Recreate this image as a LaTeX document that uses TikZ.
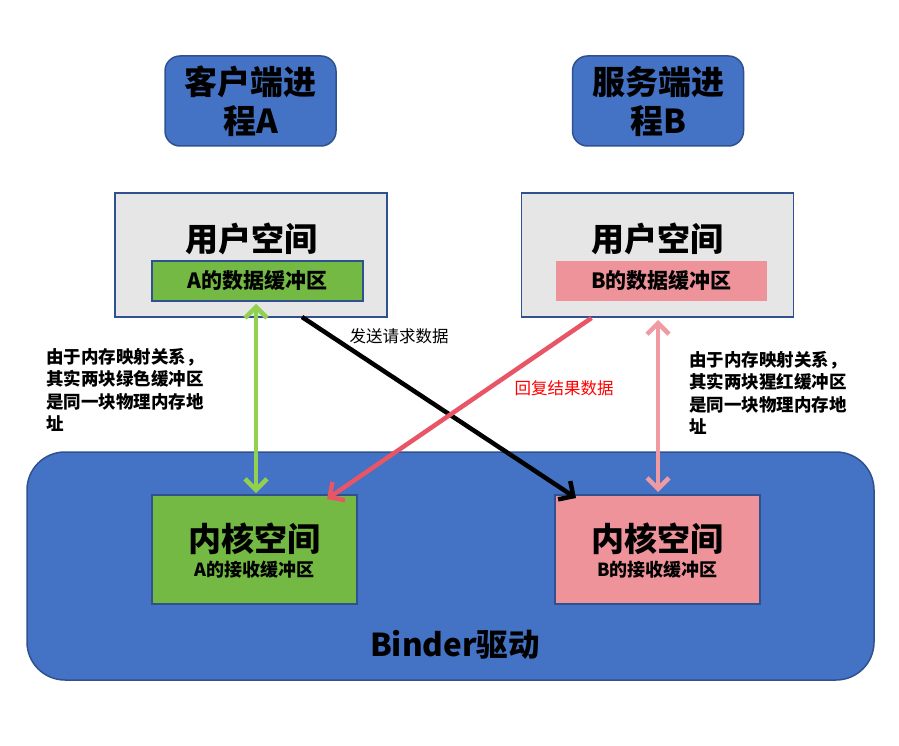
\documentclass[tikz,border=0pt]{standalone}
\usepackage{fontspec}
\setmainfont{Noto Sans CJK SC}
\usetikzlibrary{arrows.meta,calc}
\definecolor{bfill}{HTML}{4472C4}
\definecolor{bdraw}{HTML}{2F528F}
\definecolor{gfill}{HTML}{E7E6E6}
\definecolor{grn}{HTML}{74B943}
\definecolor{pnk}{HTML}{EF939B}
\definecolor{garrow}{HTML}{92D050}
\definecolor{parrow}{HTML}{F09AA2}
\definecolor{rarrow}{HTML}{E75566}
\tikzset{
  box/.style={draw=bdraw, line width=1.5pt, inner sep=0pt, outer sep=0pt},
  proc/.style={box, fill=bfill, rounded corners=15pt, minimum width=171pt, minimum height=90pt,
    align=center, font=\fontsize{33}{39}\selectfont\bfseries},
  userbox/.style={box, fill=gfill, minimum width=272pt, minimum height=124pt},
  bufbox/.style={inner sep=0pt, minimum width=211pt, minimum height=40pt, font=\fontsize{21}{24}\selectfont\bfseries},
  kbox/.style={box, minimum width=205pt, minimum height=109pt},
  title/.style={font=\fontsize{33}{38}\selectfont\bfseries, inner sep=0pt},
  sub/.style={font=\fontsize{18}{21}\selectfont\bfseries, inner sep=0pt},
  note/.style={font=\fontsize{17.5}{22.5}\selectfont\bfseries, align=left, anchor=north west, inner sep=0pt},
  alabel/.style={font=\fontsize{16.5}{19}\selectfont, inner sep=0pt},
  conn/.style={line width=4.5pt, arrows={-Straight Barb[length=11pt,width=22pt]}},
  dconn/.style={line width=4.5pt, arrows={Straight Barb[length=11pt,width=22pt]-Straight Barb[length=11pt,width=22pt]}}
}
\begin{document}
\begin{tikzpicture}[x=1pt,y=-1pt]
\useasboundingbox (0,0) rectangle (899,746);
\fill[white] (0,0) rectangle (899,746);
% binder
\node[box, fill=bfill, rounded corners=38pt, minimum width=847pt, minimum height=228pt] (binder) at (450.5,566) {};
\node[title, font=\fontsize{31.5}{36}\selectfont\bfseries] (bindert) at (455,645) {Binder驱动};
% processes
\node[proc] (proca) at (250.5,101) {客户端进\\程A};
\node[proc] (procb) at (658,101) {服务端进\\程B};
% user spaces
\node[userbox] (userA) at (251,255) {};
\node[title] (userAt) at (251,239) {用户空间};
\node[bufbox, fill=grn, draw=bdraw, line width=1.5pt] (bufA) at (257.5,281) {A的数据缓冲区};
\node[userbox] (userB) at (657.5,255) {};
\node[title] (userBt) at (657.5,239) {用户空间};
\node[bufbox, fill=pnk] (bufB) at (661.5,281) {B的数据缓冲区};
% kernel spaces
\node[kbox, fill=grn] (kernA) at (254.5,549.5) {};
\node[title] (kernAt) at (254.5,539) {内核空间};
\node[sub] (kernAs) at (254.5,570) {A的接收缓冲区};
\node[kbox, fill=pnk] (kernB) at (657.5,549.5) {};
\node[title] (kernBt) at (657.5,539) {内核空间};
\node[sub] (kernBs) at (657.5,570) {B的接收缓冲区};
% connectors
\draw[dconn, garrow, shorten <=2pt, shorten >=2pt] ($(bufA.south)+(-1.5,0)$) -- ($(bufA.south |- kernA.north)+(-1.5,0)$);
\draw[dconn, parrow, shorten <=3pt, shorten >=3pt] ($(userB.south)+(0.5,0)$) -- ($(kernB.north)+(0.5,0)$);
\draw[conn, black] ($(userA.south west)+(187,0)$) -- ($(kernB.north west)+(21,3)$);
\draw[conn, rarrow] ($(userB.south west)+(70,1)$) -- ($(kernA.north east)+(-30,4)$);
% labels
\node[alabel] (lsend) at (399,336) {发送请求数据};
\node[alabel, text=red] (lreply) at (564,388) {回复结果数据};
\node[note] (noteA) at (46,348) {由于内存映射关系，\\其实两块绿色缓冲区\\是同一块物理内存地\\址};
\node[note] (noteB) at (689,351) {由于内存映射关系，\\其实两块猩红缓冲区\\是同一块物理内存地\\址};
\end{tikzpicture}
\end{document}
